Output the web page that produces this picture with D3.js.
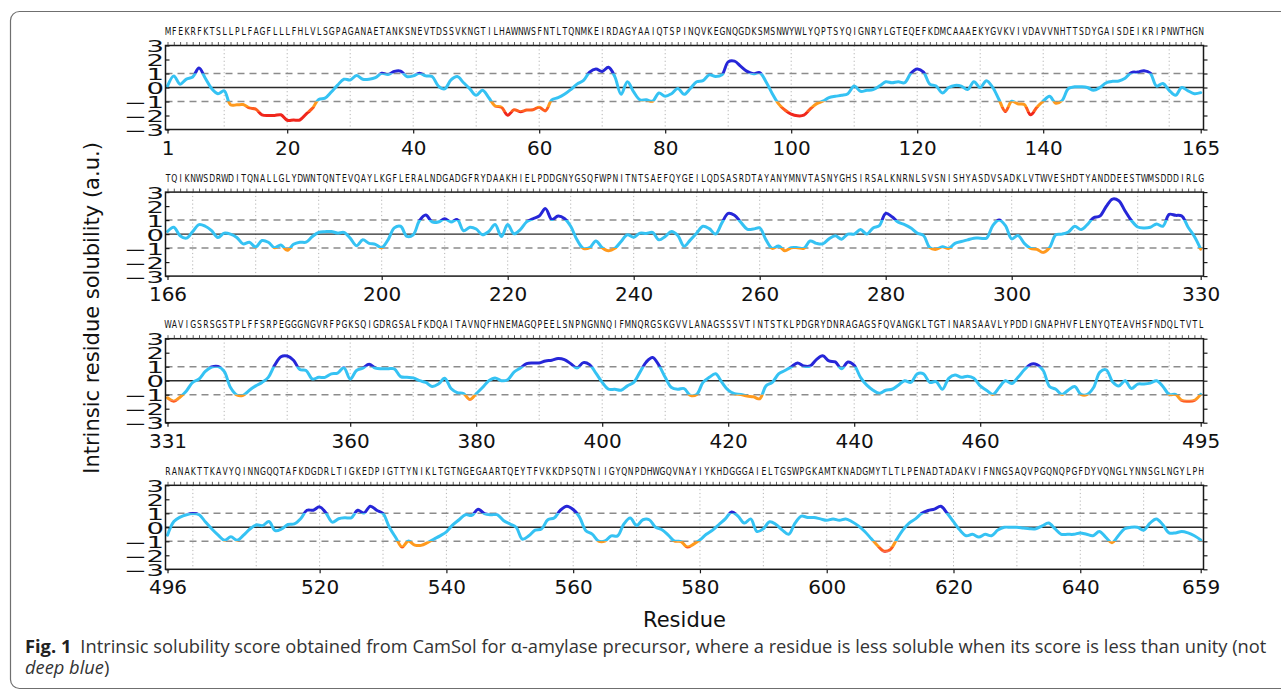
<!DOCTYPE html>
<html><head><meta charset="utf-8">
<script src="https://cdn.jsdelivr.net/npm/d3@7"></script>
<style>
body{margin:0;background:#fff;}
svg{display:block;}
</style></head><body>
<svg id="chart" width="1281" height="693"></svg>
<script>
// ---------------- DATA ----------------
const sequence1 = "MFEKRFKTSLLPLFAGFLLLFHLVLSGPAGANAETANKSNEVTDSSVKNGTILHAWNWSFNTLTQNMKEIRDAGYAAIQTSPINQVKEGNQGDKSMSNWYWLYQPTSYQIGNRYLGTEQEFKDMCAAAEKYGVKVIVDAVVNHTTSDYGAISDEIKRIPNWTHGN";
const sequence2 = "TQIKNWSDRWDITQNALLGLYDWNTQNTEVQAYLKGFLERALNDGADGFRYDAAKHIELPDDGNYGSQFWPNITNTSAEFQYGEILQDSASRDTAYANYMNVTASNYGHSIRSALKNRNLSVSNISHYASDVSADKLVTWVESHDTYANDDEESTWMSDDDIRLG";
const sequence3 = "WAVIGSRSGSTPLFFSRPEGGGNGVRFPGKSQIGDRGSALFKDQAITAVNQFHNEMAGQPEELSNPNGNNQIFMNQRGSKGVVLANAGSSSVTINTSTKLPDGRYDNRAGAGSFQVANGKLTGTINARSAAVLYPDDIGNAPHVFLENYQTEAVHSFNDQLTVTL";
const sequence4 = "RANAKTTKAVYQINNGQQTAFKDGDRLTIGKEDPIGTTYNIKLTGTNGEGAARTQEYTFVKKDPSQTNIIGYQNPDHWGQVNAYIYKHDGGGAIELTGSWPGKAMTKNADGMYTLTLPENADTADAKVIFNNGSAQVPGQNQPGFDYVQNGLYNNSGLNGYLPH";

const solubility1 = [
 0.1,0.83,0.24,0.6,0.75,1.39,0.66,-0.07,-0.44,-0.24,
 -1.24,-1.24,-1.22,-1.46,-1.54,-1.95,-2.0,-2.0,-1.95,-2.34,
 -2.32,-2.32,-1.9,-1.49,-0.85,-0.76,-0.32,0.17,0.59,0.54,
 0.85,0.59,0.59,0.7,1.02,0.93,1.15,1.17,0.78,0.83,
 1.02,0.83,0.78,0.1,-0.1,0.54,0.78,0.34,-0.1,-0.56,
 -0.2,-0.73,-1.32,-1.41,-1.98,-1.59,-1.73,-1.61,-1.59,-1.41,
 -1.66,-0.88,-0.73,-0.49,-0.15,0.24,0.49,1.1,1.32,1.15,
 1.44,0.78,-0.49,0.41,-0.32,-0.88,-0.88,-0.98,-0.39,-0.63,
 -0.44,-0.07,-0.49,-0.07,0.41,0.49,0.9,0.78,0.9,1.83,
 1.88,1.51,1.15,0.98,1.07,0.41,-0.44,-1.17,-1.61,-1.9,
 -2.02,-1.98,-1.54,-1.17,-0.98,-0.73,-0.63,-0.56,-0.44,0.1,
 -0.27,-0.2,-0.15,0.1,0.41,0.34,0.41,0.34,1.02,1.32,
 1.1,0.24,0.1,-0.39,0,0.15,0.1,-0.15,0.41,0,
 0.49,0,-0.88,-1.71,-0.98,-1.17,-1.22,-1.95,-1.41,-0.98,
 -0.63,-1.12,-0.93,-0.07,0.05,0.05,0,-0.2,0,0.34,
 0.44,0.46,0.66,1.07,1.1,1.2,1.02,0.1,0.29,-0.2,
 -0.56,0,-0.24,-0.44,-0.37
];
const solubility2 = [
 0.19,0.49,-0.12,-0.29,0.19,0.68,0.56,0.24,-0.24,0.07,
 0,-0.24,-0.7,-0.58,-0.92,-0.46,-0.58,-0.97,-0.78,-1.16,
 -0.73,-0.58,-0.58,-0.17,0.12,0.17,0.19,0.07,0.12,-0.29,
 -0.83,-0.41,-0.66,-0.73,-0.97,-0.41,0.44,0.56,-0.17,-0.05,
 0.97,1.36,0.87,0.87,1.09,0.87,1.04,0.24,0.49,0.36,
 -0.05,0.19,0.68,-0.17,0.68,0.02,0.32,0.87,1.09,1.29,
 1.82,1.04,1.29,1.12,0.56,-0.41,-1.02,-0.97,-0.49,-0.97,
 -1.19,-1.02,-0.53,-0.05,-0.22,0.07,0.05,0.12,-0.41,-0.17,
 0.19,-0.1,-0.87,-0.41,0.07,0.56,0.39,0,0.8,1.48,
 1.34,0.85,0.36,0.36,0.44,-0.41,-1.02,-0.85,-1.19,-0.97,
 -0.97,-1.02,-0.49,-0.66,-0.7,-0.34,-0.12,-0.36,0,0,
 0.32,0,0.44,0.61,1.48,1.24,0.85,0.68,0.44,0.07,
 -0.1,-0.97,-1.09,-0.9,-1.02,-0.66,-0.53,-0.41,-0.29,-0.29,
 -0.29,0.61,1.0,0.61,-0.34,-0.1,-0.66,-1.02,-1.09,-1.31,
 -0.97,-0.05,0,0.15,0.56,0.32,0.68,1.17,1.29,1.97,
 2.5,2.38,1.65,0.97,0.51,0.44,0.49,0.73,0.56,1.41,
 1.34,1.29,0.49,-0.17,-1.07
];
const solubility3 = [
 -1.22,-1.46,-1.17,-0.73,-0.12,0.12,0.66,0.98,1.02,0.66,
 -0.49,-1.02,-1.05,-0.68,-0.37,-0.12,0.24,1.1,1.71,1.76,
 1.46,0.8,0.73,0.12,0.24,0.24,0.49,0.54,0.93,0.12,
 0.73,0.9,1.17,0.9,0.85,0.85,0.85,0.29,0.24,0.2,
 0,-0.12,-0.41,-0.24,0.17,-0.56,-0.85,-0.93,-1.34,-0.93,
 -0.49,0,0.2,0,0.07,0.61,0.9,1.22,1.27,1.27,
 1.41,1.46,1.59,1.51,1.22,0.9,1.29,1.15,0.54,-0.12,
 -0.61,-0.61,-0.68,-0.37,-0.12,0.61,1.34,1.66,1.1,0.24,
 -0.49,-0.61,-0.56,-1.05,-0.98,-0.12,0.24,0.49,-0.12,-0.68,
 -0.93,-0.98,-1.1,-1.15,-1.29,-0.37,-0.12,0.49,0.73,0.98,
 1.27,1.05,1.05,1.51,1.78,1.41,1.34,0.85,1.34,1.1,
 0.24,-0.32,-0.68,-0.9,-0.68,-0.61,-0.32,0,-0.12,0.49,
 0.49,-0.12,-0.07,-0.61,0.17,0.41,0.24,0.32,0.17,-0.37,
 -0.68,-0.98,-0.49,0,-0.2,0.24,0.78,1.17,1.15,0.73,
 -0.41,-0.61,-0.98,-0.66,-0.41,-0.98,-0.98,-0.49,0.61,0.78,
 -0.07,-0.37,0,-0.56,-0.24,-0.24,-0.17,0,-0.41,-0.98,
 -0.98,-1.41,-1.46,-1.41,-0.98
];
const solubility4 = [
 -0.56,0.41,0.73,0.9,0.98,0.9,0.37,-0.12,-0.56,-0.93,
 -0.68,-0.93,-0.56,-0.12,0.17,0.12,0.41,-0.24,-0.12,0.2,
 0.24,0.61,1.22,1.22,1.46,1.02,0.37,0.61,0.68,0.68,
 1.22,1.02,1.51,1.22,0.98,0,-0.73,-1.41,-0.98,-1.27,
 -1.29,-1.1,-0.85,-0.61,-0.32,0.17,0.54,0.9,0.85,1.29,
 0.98,0.9,0.9,0.49,0.24,0,-0.85,-0.61,-0.2,-0.12,
 0.54,0.66,1.22,1.51,1.27,0.73,-0.24,-0.49,-0.98,-0.98,
 -0.61,-0.61,0.24,0.66,0.12,0.54,0.54,0,-0.17,-0.56,
 -0.98,-1.02,-1.41,-1.2,-0.9,-0.5,-0.2,0.2,0.6,1.1,
 0.8,0.3,0.6,-0.3,-0.1,0.4,0.2,-0.2,-0.5,0.3,
 0.8,0.7,0.7,0.6,0.5,0.6,0.5,0.6,0.4,0.1,
 -0.3,-0.8,-1.3,-1.7,-1.6,-0.9,-0.2,0.3,0.6,1.0,
 1.2,1.3,1.5,1.0,0.4,-0.2,-0.6,-0.5,-0.7,-0.5,
 -0.6,-0.2,0,0,0,-0.05,-0.1,-0.1,0.1,0.3,
 -0.1,-0.5,-0.5,-0.5,-0.4,-0.5,-0.6,-0.3,-0.7,-1.1,
 -0.6,-0.1,0,0,-0.2,0.3,0.6,0.2,-0.4,-0.4,
 -0.3,-0.4,-0.6,-0.9
];

const startResidues = [1, 166, 331, 496];
const xTicks1 = [1,20,40,60,80,100,120,140,165];
const xTicks2 = [166,200,220,240,260,280,300,330];
const xTicks3 = [331,360,380,400,420,440,460,495];
const xTicks4 = [496,520,540,560,580,600,620,640,659];
const yTicks = [-3,-2,-1,0,1,2,3];

const yAxisTitle = "Intrinsic residue solubility (a.u.)";
const xAxisTitle = "Residue";
const captionLabel = "Fig. 1";
const captionLine1 = "Intrinsic solubility score obtained from CamSol for \u03b1-amylase precursor, where a residue is less soluble when its score is less than unity (not";
const captionLine2Italic = "deep blue";
const captionLine2Rest = ")";

// ---------------- LAYOUT / STYLE ----------------
const panels = [
  {seq: sequence1, vals: solubility1, start: startResidues[0], ticks: xTicks1},
  {seq: sequence2, vals: solubility2, start: startResidues[1], ticks: xTicks2},
  {seq: sequence3, vals: solubility3, start: startResidues[2], ticks: xTicks3},
  {seq: sequence4, vals: solubility4, start: startResidues[3], ticks: xTicks4}
];
const firstX = 167.5, lastX = 1200.7, boxL = 165.5, boxR = 1203.5;
const tops = [45.5, 192.1, 338.7, 485.3];
const H = 84;
const FONT = "DejaVu Sans, Verdana, sans-serif";
const bands = [
  {lo: 1, hi: 99, color: "#2626d8"},
  {lo: -1, hi: 1, color: "#35c2f3"},
  {lo: -1.4, hi: -1, color: "#ff9a1e"},
  {lo: -1.75, hi: -1.4, color: "#ff5e1f"},
  {lo: -99, hi: -1.75, color: "#f0261c"}
];

const svg = d3.select("#chart");
const defs = svg.append("defs");

// outer frame
svg.append("rect")
  .attr("x", 10.5).attr("y", 11.5).attr("width", 1320).attr("height", 677)
  .attr("rx", 9).attr("fill", "none").attr("stroke", "#6f6f6f").attr("stroke-width", 1.2);

panels.forEach((p, k) => {
  const end = p.start + p.vals.length - 1;
  const top = tops[k];
  const x = d3.scaleLinear().domain([p.start, end]).range([firstX, lastX]);
  const y = d3.scaleLinear().domain([-3, 3]).range([top + H, top]);
  const g = svg.append("g");

  // vertical dotted grid every 10 residues
  const grid = d3.range(Math.ceil((p.start + 1) / 10) * 10, end, 10);
  g.selectAll("line.grid").data(grid).join("line")
    .attr("x1", d => x(d)).attr("x2", d => x(d))
    .attr("y1", top).attr("y2", top + H)
    .attr("stroke", "#b4b4b4").attr("stroke-width", 1).attr("stroke-dasharray", "1.2,2.6");

  // horizontal reference lines
  g.selectAll("line.ref").data([-1, 1]).join("line")
    .attr("x1", boxL).attr("x2", boxR)
    .attr("y1", d => y(d)).attr("y2", d => y(d))
    .attr("stroke", "#8c8c8c").attr("stroke-width", 1.5).attr("stroke-dasharray", "7,5");
  g.append("line")
    .attr("x1", boxL).attr("x2", boxR).attr("y1", y(0)).attr("y2", y(0))
    .attr("stroke", "#2b2b2b").attr("stroke-width", 1.4);

  // profile line, coloured by value bands
  const line = d3.line()
    .x((d, i) => x(p.start + i))
    .y(d => y(d))
    .curve(d3.curveCatmullRom.alpha(0.5));
  const pathD = line(p.vals);
  bands.forEach((b, j) => {
    const id = `clip-${k}-${j}`;
    const y1 = Math.max(y(b.hi), top - 20), y2 = Math.min(y(b.lo), top + H + 20);
    defs.append("clipPath").attr("id", id).append("rect")
      .attr("x", boxL - 10).attr("width", boxR - boxL + 20)
      .attr("y", y1).attr("height", Math.max(0, y2 - y1));
    g.append("path").attr("d", pathD)
      .attr("fill", "none").attr("stroke", b.color).attr("stroke-width", 3)
      .attr("stroke-linejoin", "round").attr("stroke-linecap", "round")
      .attr("clip-path", `url(#${id})`);
  });

  // frame
  g.append("rect").attr("x", boxL).attr("y", top).attr("width", boxR - boxL).attr("height", H)
    .attr("fill", "none").attr("stroke", "#1a1a1a").attr("stroke-width", 1.5);

  // top axis: sequence letters
  const topAxis = g.append("g").attr("transform", `translate(0,${top})`)
    .call(d3.axisTop(x).tickValues(d3.range(p.start, end + 1))
      .tickSize(3.5).tickPadding(7).tickFormat((d) => p.seq[d - p.start]));
  topAxis.select(".domain").remove();
  topAxis.selectAll("line").attr("stroke", "#333").attr("stroke-width", 0.8);
  topAxis.selectAll("text").attr("font-family", FONT).attr("font-size", 9.6)
    .attr("fill", "#111").attr("transform", "scale(0.8,1)");

  // bottom axis
  const bot = g.append("g").attr("transform", `translate(0,${top + H})`)
    .call(d3.axisBottom(x).tickValues(p.ticks).tickSize(4).tickPadding(7).tickFormat(d3.format("d")));
  bot.select(".domain").remove();
  bot.selectAll("line").attr("stroke", "#1a1a1a").attr("stroke-width", 1.2);
  bot.selectAll("text").attr("font-family", FONT).attr("font-size", 20).attr("fill", "#111");

  // right axis (ticks only)
  const right = g.append("g").attr("transform", `translate(${boxR},0)`)
    .call(d3.axisRight(y).tickValues(yTicks).tickSize(4).tickFormat(""));
  right.select(".domain").remove();
  right.selectAll("line").attr("stroke", "#1a1a1a").attr("stroke-width", 1.2);

  // left axis
  const left = g.append("g").attr("transform", `translate(${boxL},0)`)
    .call(d3.axisLeft(y).tickValues(yTicks).tickSizeInner(-4).tickSizeOuter(0).tickPadding(1)
      .tickFormat(d3.format("d")));
  left.select(".domain").remove();
  left.selectAll("line").attr("stroke", "#1a1a1a").attr("stroke-width", 1.2);
  left.selectAll("text").attr("font-family", FONT).attr("font-size", 19).attr("fill", "#111")
    .attr("transform", "scale(1.45,0.82)").attr("dy", "0.38em");
});

// axis titles
svg.append("text")
  .attr("transform", "translate(92,308) rotate(-90)")
  .attr("text-anchor", "middle").attr("dominant-baseline", "central")
  .attr("font-family", FONT).attr("font-size", 21).attr("fill", "#111")
  .text(yAxisTitle);
svg.append("text")
  .attr("x", (boxL + boxR) / 2).attr("y", 627)
  .attr("text-anchor", "middle")
  .attr("font-family", FONT).attr("font-size", 21).attr("fill", "#111")
  .text(xAxisTitle);

// caption
const capFont = "Open Sans, Noto Sans, sans-serif";
const cap1 = svg.append("text").attr("x", 25).attr("y", 653)
  .attr("font-family", capFont).attr("font-size", 16).attr("fill", "#333");
cap1.append("tspan").attr("font-weight", "bold").attr("fill", "#222").text(captionLabel);
cap1.append("tspan").attr("dx", 9).text(captionLine1);
// fit line 1 to its width in the reference (ends near x=1258)
const w1 = cap1.node().getComputedTextLength();
const capSize = 16 * (1233 / w1);
cap1.attr("font-size", capSize);
const cap2 = svg.append("text").attr("x", 25).attr("y", 674)
  .attr("font-family", capFont).attr("font-size", capSize).attr("fill", "#333");
cap2.append("tspan").attr("font-style", "italic").text(captionLine2Italic);
cap2.append("tspan").text(captionLine2Rest);
</script>
</body></html>
